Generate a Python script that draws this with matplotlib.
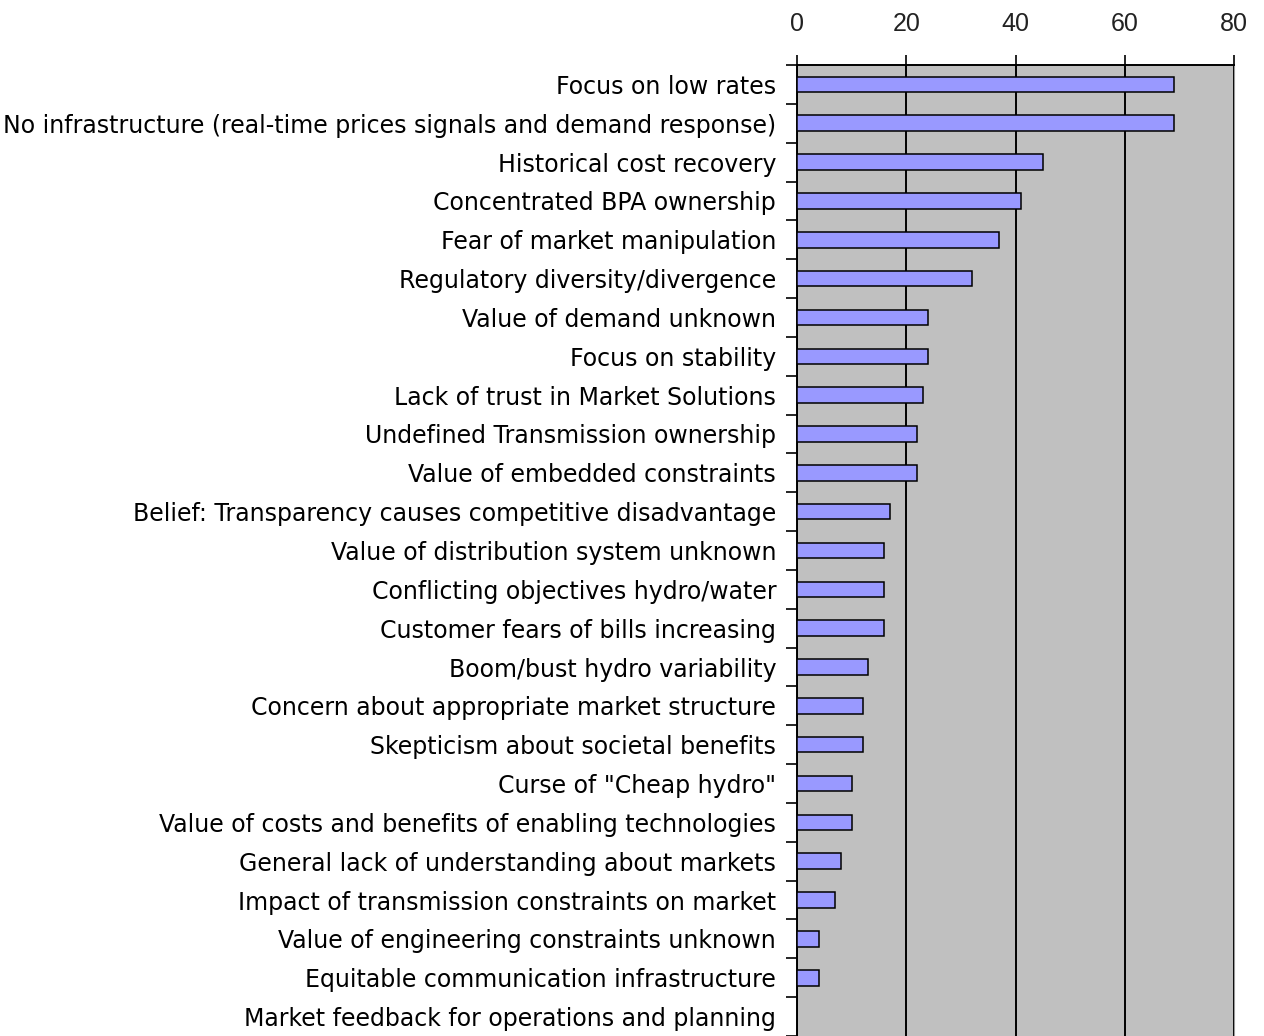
import numpy as np
import matplotlib
matplotlib.use("Agg")
import matplotlib.pyplot as plt
from matplotlib.ticker import FixedLocator

# categories, top to bottom
categories = [
    "Focus on low rates",
    "No infrastructure (real-time prices signals and demand response)",
    "Historical cost recovery",
    "Concentrated BPA ownership",
    "Fear of market manipulation",
    "Regulatory diversity/divergence",
    "Value of demand unknown",
    "Focus on stability",
    "Lack of trust in Market Solutions",
    "Undefined Transmission ownership",
    "Value of embedded constraints",
    "Belief: Transparency causes competitive disadvantage",
    "Value of distribution system unknown",
    "Conflicting objectives hydro/water",
    "Customer fears of bills increasing",
    "Boom/bust hydro variability",
    "Concern about appropriate market structure",
    "Skepticism about societal benefits",
    "Curse of \"Cheap hydro\"",
    "Value of costs and benefits of enabling technologies",
    "General lack of understanding about markets",
    "Impact of transmission constraints on market",
    "Value of engineering constraints unknown",
    "Equitable communication infrastructure",
    "Market feedback for operations and planning",
]
votes = [69, 69, 45, 41, 37, 32, 24, 24, 23, 22, 22, 17, 16, 16, 16, 13,
         12, 12, 10, 10, 8, 7, 4, 4, 0]
xticks = [0, 20, 40, 60, 80]

W, H = 1264, 1036
fig = plt.figure(figsize=(W / 100, H / 100), dpi=100)
ax = fig.add_axes([797 / W, 0.0, 437 / W, 971 / H])
ax.set_facecolor("#c0c0c0")

y = np.arange(len(categories))
ax.barh(y, votes, height=0.4, color="#9999ff", edgecolor="black",
        linewidth=1.1, zorder=3)

ax.set_xlim(0, 80)
ax.set_ylim(len(categories) - 0.5, -0.5)

# x axis on top
ax.xaxis.tick_top()
ax.set_xticks(xticks)
ax.set_xticklabels([str(t) for t in xticks], family="Liberation Sans",
                   fontsize=18, color="#222222")
ax.tick_params(axis="x", direction="out", length=7, width=1.2, pad=14)
ax.grid(axis="x", color="black", linewidth=1.4, zorder=1)

# category labels; tick marks at category boundaries
ax.set_yticks(y)
ax.set_yticklabels(categories, family="DejaVu Sans", fontsize=17)
ax.tick_params(axis="y", which="major", length=0, pad=15)
ax.yaxis.set_minor_locator(FixedLocator(np.arange(-0.5, len(categories), 1)))
ax.tick_params(axis="y", which="minor", direction="out", length=8, width=1.2)

for side in ("top", "left"):
    ax.spines[side].set_linewidth(1.4)
    ax.spines[side].set_color("black")
ax.spines["right"].set_color("#999999")
ax.spines["right"].set_linewidth(0.8)
ax.spines["bottom"].set_visible(False)

fig.savefig("out.png", dpi=100)
